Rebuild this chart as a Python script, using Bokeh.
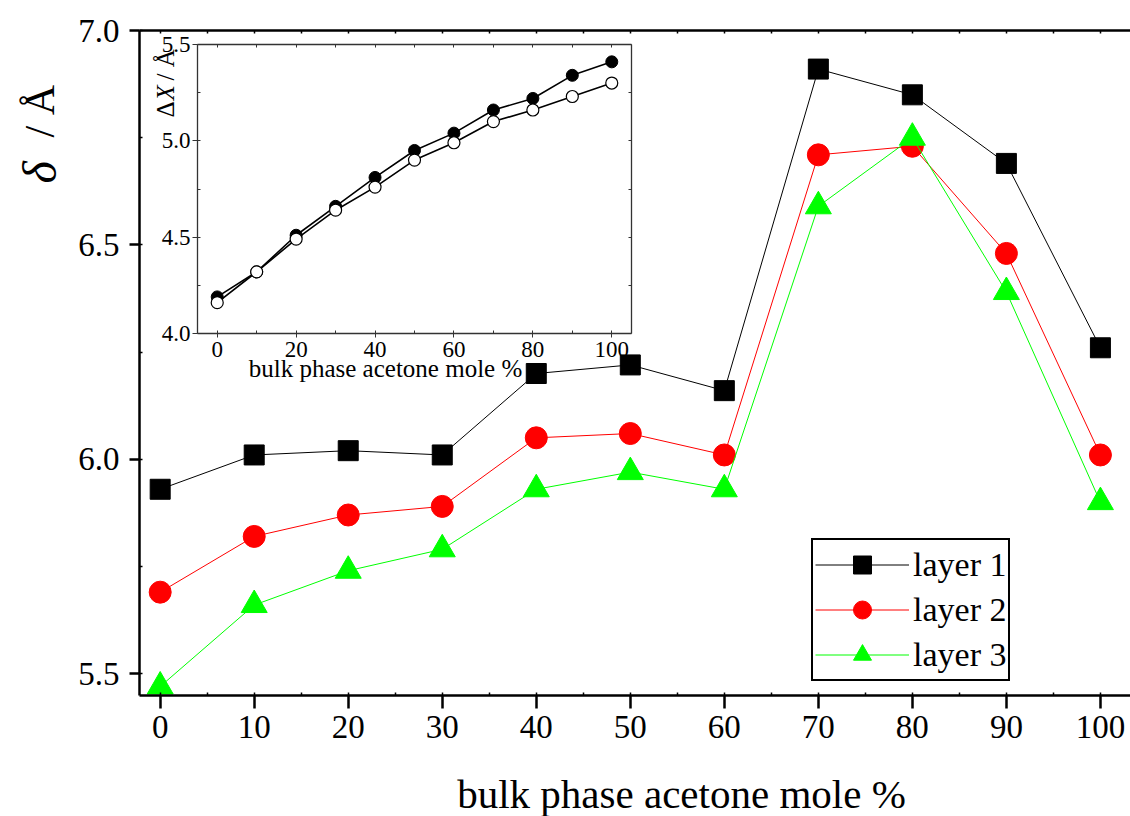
import math
from bokeh.plotting import figure
from bokeh.models import (Range1d, LinearAxis, SingleIntervalTicker, PrintfTickFormatter,
                          Label, GridBox)
from bokeh.embed import file_html
from bokeh.resources import INLINE

# ---------------- data ----------------
acetone = [0, 10, 20, 30, 40, 50, 60, 70, 80, 90, 100]
layer1 = [5.93, 6.01, 6.02, 6.01, 6.20, 6.22, 6.16, 6.91, 6.85, 6.69, 6.26]
layer2 = [5.69, 5.82, 5.87, 5.89, 6.05, 6.06, 6.01, 6.71, 6.73, 6.48, 6.01]
layer3 = [5.47, 5.66, 5.74, 5.79, 5.93, 5.97, 5.93, 6.59, 6.75, 6.39, 5.90]
series_names = ["layer 1", "layer 2", "layer 3"]

inset_x = [0, 10, 20, 30, 40, 50, 60, 70, 80, 90, 100]
inset_filled = [4.19, 4.32, 4.51, 4.66, 4.81, 4.95, 5.04, 5.16, 5.22, 5.34, 5.41]
inset_open = [4.16, 4.32, 4.49, 4.64, 4.76, 4.90, 4.99, 5.10, 5.16, 5.23, 5.30]

x_label = "bulk phase acetone mole %"

FONT = "Liberation Serif"
W, H = 1130, 816

# ---------------- main figure ----------------
p = figure(frame_width=991, frame_height=665,
           min_border_left=139, min_border_top=30, min_border_right=0, min_border_bottom=121,
           x_range=Range1d(-2.2, 103.2), y_range=Range1d(5.449, 7.0),
           output_backend="svg", toolbar_location=None,
           background_fill_color="white", border_fill_color="white",
           outline_line_color=None)
p.xgrid.visible = False
p.ygrid.visible = False

for ax in (p.xaxis[0], p.yaxis[0]):
    ax.axis_line_width = 2.5
    ax.axis_line_color = "black"
    ax.major_tick_line_width = 2.5
    ax.minor_tick_line_width = 1.5
    ax.major_label_text_font = FONT
    ax.major_label_text_font_size = "33px"
    ax.major_label_text_color = "black"
    ax.minor_tick_in = 3
    ax.minor_tick_out = 0
    ax.major_tick_in = 0

p.xaxis[0].ticker = SingleIntervalTicker(interval=10, num_minor_ticks=2)
p.xaxis[0].major_tick_out = 13
p.xaxis[0].major_label_standoff = 7
p.yaxis[0].ticker = SingleIntervalTicker(interval=0.5, num_minor_ticks=2)
p.yaxis[0].formatter = PrintfTickFormatter(format="%.1f")
p.yaxis[0].major_tick_out = 10
p.yaxis[0].major_label_standoff = 10

top_axis = LinearAxis(ticker=SingleIntervalTicker(interval=5, num_minor_ticks=0),
                      axis_line_width=2.5, major_tick_in=3, major_tick_out=0,
                      major_tick_line_width=1.5, minor_tick_line_color=None,
                      major_label_text_font_size="1px", major_label_text_alpha=0,
                      major_label_standoff=0)
p.add_layout(top_axis, "above")

colors = ["black", "#ff0000", "#00ff00"]
markers = ["square", "circle", "triangle"]
sizes = [20, 22, 26]
for vals, name, c, m, s in zip([layer1, layer2, layer3], series_names, colors, markers, sizes):
    p.line(acetone, vals, line_color=c, line_width=1, legend_label=name)
    p.scatter(acetone, vals, marker=m, size=s, fill_color=c, line_color=c, legend_label=name)

lg = p.legend[0]
lg.location = (672, 14)
lg.border_line_color = "black"
lg.border_line_alpha = 1.0
lg.border_line_width = 2
lg.label_text_font = FONT
lg.label_text_font_size = "34px"
lg.label_text_color = "black"
lg.glyph_width = 94
lg.glyph_height = 45
lg.label_height = 40
lg.spacing = 0
lg.padding = 2
lg.margin = 0
lg.label_standoff = 4
lg.background_fill_alpha = 1.0

# ---------------- inset figure ----------------
ins = figure(frame_width=434, frame_height=289,
             min_border_left=57, min_border_top=14, min_border_right=9, min_border_bottom=60,
             x_range=Range1d(-5, 105), y_range=Range1d(4.0, 5.5),
             output_backend="svg", toolbar_location=None,
             background_fill_alpha=0, border_fill_alpha=0, outline_line_color=None)
ins.xgrid.visible = False
ins.ygrid.visible = False
AXC = "#333333"
for ax in (ins.xaxis[0], ins.yaxis[0]):
    ax.axis_line_width = 1.3
    ax.axis_line_color = AXC
    ax.major_tick_line_color = AXC
    ax.minor_tick_line_color = AXC
    ax.major_tick_in = 0
    ax.minor_tick_in = 3
    ax.minor_tick_out = 0
    ax.major_label_text_font = FONT
    ax.major_label_text_font_size = "23px"
    ax.major_label_text_color = "black"
ins.xaxis[0].ticker = SingleIntervalTicker(interval=20, num_minor_ticks=2)
ins.xaxis[0].major_tick_out = 4
ins.xaxis[0].major_label_standoff = 4
ins.yaxis[0].ticker = SingleIntervalTicker(interval=0.5, num_minor_ticks=2)
ins.yaxis[0].formatter = PrintfTickFormatter(format="%.1f")
ins.yaxis[0].major_tick_out = 5
ins.yaxis[0].major_label_standoff = 2

for side, tk in (("above", SingleIntervalTicker(interval=10, num_minor_ticks=0)),
                 ("right", SingleIntervalTicker(interval=0.25, num_minor_ticks=0))):
    ins.add_layout(LinearAxis(ticker=tk, axis_line_width=1.3, axis_line_color=AXC,
                              major_tick_in=3, major_tick_out=0, major_tick_line_color=AXC,
                              minor_tick_line_color=None, major_label_text_font_size="1px",
                              major_label_text_alpha=0, major_label_standoff=0), side)

ins.line(inset_x, inset_filled, line_color="black", line_width=1.6)
ins.scatter(inset_x, inset_filled, marker="circle", size=12, fill_color="black", line_color="black")
ins.line(inset_x, inset_open, line_color="black", line_width=1.6)
ins.scatter(inset_x, inset_open, marker="circle", size=12, fill_color="white", line_color="black",
            line_width=1.2)

# ---------------- text overlay (page pixel coordinates) ----------------
ov = figure(width=W, height=H, x_range=Range1d(0, W), y_range=Range1d(H, 0),
            x_axis_location=None, y_axis_location=None, min_border=0,
            output_backend="svg", toolbar_location=None,
            background_fill_alpha=0, border_fill_alpha=0, outline_line_color=None)
ov.xgrid.visible = False
ov.ygrid.visible = False


def txt(x, y, s, size, angle=0.0, align="left", style="normal"):
    ov.add_layout(Label(x=x, y=y, text=s, angle=angle, text_align=align,
                        text_baseline="alphabetic", text_font=FONT, text_font_size=size,
                        text_font_style=style, text_color="black"))


up = math.pi / 2
# main axis titles
txt(681, 793, x_label, "41px", align="center")
txt(39, 183, "δ", "48px", angle=up, style="italic")
txt(39, 137, "/ Å", "42px", angle=up)
# inset axis titles
txt(385, 368, x_label, "25px", align="center")
txt(165, 117, "Δ", "25px", angle=up)
txt(165, 100, "X", "25px", angle=up, style="italic")
txt(165, 80, "/ Å", "25px", angle=up)

grid = GridBox(children=[(p, 1, 1, 3, 3), (ins, 2, 2), (ov, 0, 0, 5, 5)],
               rows=["0px", "30px", "400px", "386px", "0px"],
               cols=["0px", "140px", "520px", "470px", "0px"], spacing=0)

open("out.html", "w").write(file_html(grid, INLINE))
